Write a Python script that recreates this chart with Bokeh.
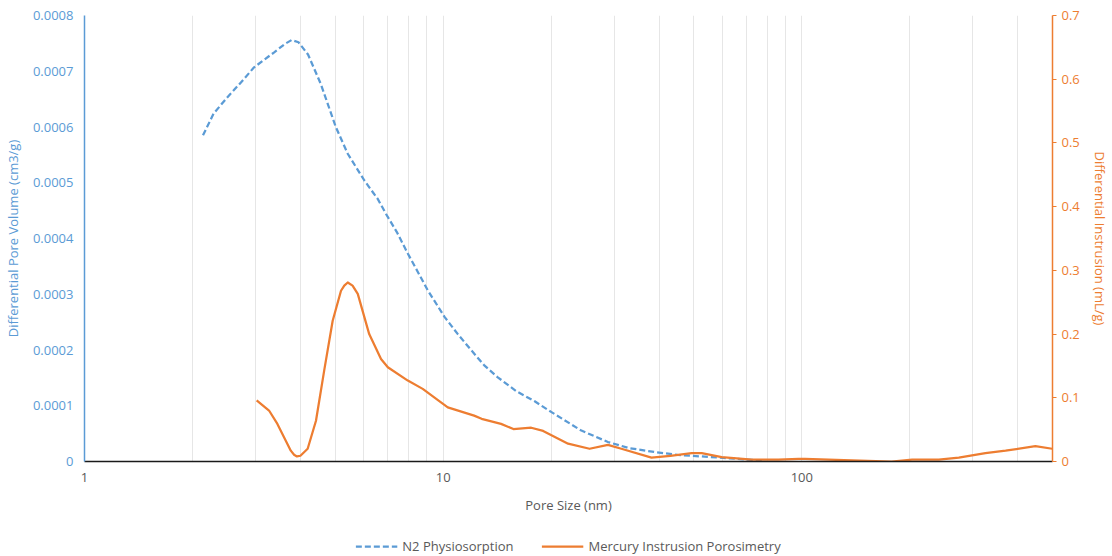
from bokeh.plotting import figure
from bokeh.layouts import column
from bokeh.models import (LinearAxis, Range1d, FixedTicker, Legend, LegendItem,
                          CustomJSTickFormatter)
from bokeh.embed import file_html
from bokeh.resources import INLINE

# N2 physiosorption (left axis, cm3/g)
n2_x = [2.14, 2.29, 2.50, 2.73, 2.97, 3.38, 3.62, 3.78, 3.95, 4.20,
        4.56, 5.02, 5.42, 6.03, 6.57, 6.93, 7.45, 7.97, 8.50, 9.06, 10.1, 11.0,
        12.0, 13.0, 14.2, 16.0, 18.0, 20.0, 24.2, 28.8, 33.0, 38.9, 45.0, 52.6,
        62.0, 75.7, 78.0]
n2_y = [0.000585, 0.000624, 0.000653, 0.000680, 0.000707,
        0.000734, 0.000749, 0.000756, 0.000752, 0.000730, 0.000677, 0.000600,
        0.000552, 0.000504, 0.000471, 0.000444, 0.000410, 0.000373, 0.000340,
        0.000307, 0.000259, 0.000228, 0.000199, 0.000173, 0.000151, 0.000126,
        0.000108, 0.000089, 0.000056, 0.000035, 0.000024, 0.000017, 0.000012,
        0.000009, 0.000006, 0.000002, 0.000001]

# Mercury intrusion porosimetry (right axis, mL/g)
hg_x = [3.02, 3.27, 3.45, 3.60, 3.76, 3.84, 3.91, 4.00, 4.19, 4.42, 4.66, 4.92,
        5.19, 5.30, 5.42, 5.59, 5.78, 6.22, 6.71, 7.01, 7.97, 8.77, 10.3, 12.2,
        12.8, 14.5, 15.7, 17.6, 19.0, 22.3, 25.6, 28.8, 31.4, 38.1, 43.0, 49.3,
        52.6, 59.8, 72.5, 86.0, 98.0, 102, 138, 178, 203, 241, 274, 325, 370,
        448, 499]
hg_y = [0.096, 0.080, 0.059, 0.038, 0.017, 0.0105, 0.008, 0.009, 0.020, 0.064,
        0.143, 0.221, 0.268, 0.276, 0.281, 0.276, 0.263, 0.200, 0.161, 0.148,
        0.127, 0.114, 0.085, 0.072, 0.067, 0.059, 0.051, 0.053, 0.048, 0.028,
        0.020, 0.026, 0.020, 0.006, 0.009, 0.013, 0.013, 0.007, 0.003, 0.003,
        0.004, 0.004, 0.0016, 0.0, 0.003, 0.003, 0.006, 0.013, 0.017, 0.024,
        0.020]

x_major = [1, 10, 100]
x_grid = [1, 2, 3, 4, 5, 6, 7, 8, 9, 10, 20, 30, 40, 50, 60, 70, 80, 90,
          100, 200, 300, 400, 500]
left_ticks = [0, 0.0001, 0.0002, 0.0003, 0.0004, 0.0005, 0.0006, 0.0007, 0.0008]
right_ticks = [0, 0.1, 0.2, 0.3, 0.4, 0.5, 0.6, 0.7]
series_names = ["N2 Physiosorption", "Mercury Instrusion Porosimetry"]

BLUE = "#5B9BD5"
ORANGE = "#ED7D31"
GREY = "#595959"
FONT = "Open Sans"

p = figure(width=1112, height=536, x_axis_type="log",
           x_range=Range1d(1, 500), y_range=Range1d(0, 0.0008),
           output_backend="svg", toolbar_location=None,
           min_border_left=84, min_border_right=60, min_border_top=15,
           min_border_bottom=75)
p.outline_line_color = None
p.extra_y_ranges = {"hg": Range1d(0, 0.7)}

# grid
p.ygrid.visible = False
p.xgrid.ticker = FixedTicker(ticks=x_grid)
p.xgrid.grid_line_color = "#e6e6e6"
p.xgrid.grid_line_width = 1

# x axis
xa = p.xaxis[0]
xa.ticker = FixedTicker(ticks=x_major)
xa.formatter = CustomJSTickFormatter(code="return String(tick)")
xa.axis_line_color = "#1a1a1a"
xa.axis_line_width = 1.5
xa.major_tick_line_color = None
xa.minor_tick_line_color = None
xa.major_label_text_color = GREY
xa.major_label_text_font = FONT
xa.major_label_text_font_size = "13px"
xa.axis_label = "Pore Size (nm)"
xa.axis_label_text_color = GREY
xa.axis_label_text_font = FONT
xa.axis_label_text_font_size = "13px"
xa.axis_label_text_font_style = "normal"
xa.axis_label_standoff = 11

# left axis
ya = p.yaxis[0]
ya.ticker = FixedTicker(ticks=left_ticks)
ya.formatter = CustomJSTickFormatter(code="return tick == 0 ? '0' : tick.toFixed(4)")
ya.axis_line_color = BLUE
ya.axis_line_width = 1.5
ya.major_tick_line_color = None
ya.minor_tick_line_color = None
ya.major_label_text_color = BLUE
ya.major_label_text_font = FONT
ya.major_label_text_font_size = "13px"
ya.axis_label = "Differential Pore Volume (cm3/g)"
ya.axis_label_text_color = BLUE
ya.axis_label_text_font = FONT
ya.axis_label_text_font_size = "13px"
ya.axis_label_text_font_style = "normal"
ya.axis_label_standoff = 8

# right axis
ra = LinearAxis(y_range_name="hg", ticker=FixedTicker(ticks=right_ticks),
                formatter=CustomJSTickFormatter(code="return tick == 0 ? '0' : tick.toFixed(1)"))
ra.axis_line_color = ORANGE
ra.axis_line_width = 1.5
ra.major_tick_line_color = ORANGE
ra.major_tick_out = 4
ra.major_tick_in = 0
ra.minor_tick_line_color = None
ra.major_label_text_color = ORANGE
ra.major_label_text_font = FONT
ra.major_label_text_font_size = "13px"
ra.axis_label = "Differential Instrusion (mL/g)"
ra.axis_label_text_color = ORANGE
ra.axis_label_text_font = FONT
ra.axis_label_text_font_size = "13px"
ra.axis_label_text_font_style = "normal"
ra.axis_label_standoff = 8
p.add_layout(ra, "right")

p.line(n2_x, n2_y, line_color=BLUE, line_width=2.25, line_dash="6 3",
       line_join="round")
p.line(hg_x, hg_y, line_color=ORANGE, line_width=2.25, y_range_name="hg",
       line_join="round")

# legend strip below the chart (proxy lines lie outside the strip's range)
lg = figure(width=1112, height=20, x_range=Range1d(0, 1), y_range=Range1d(0, 1),
            output_backend="svg", toolbar_location=None,
            min_border_left=0, min_border_right=0, min_border_top=0,
            min_border_bottom=0)
lg.axis.visible = False
lg.grid.visible = False
lg.outline_line_color = None
d1 = lg.line([-5, -4], [-5, -4], line_color=BLUE, line_width=2.25, line_dash="6 3")
d2 = lg.line([-5, -4], [-5, -4], line_color=ORANGE, line_width=2.25)
legend = Legend(items=[LegendItem(label=series_names[0], renderers=[d1]),
                       LegendItem(label=series_names[1], renderers=[d2])],
                orientation="horizontal", location="center",
                border_line_color=None, background_fill_alpha=0,
                label_text_font=FONT, label_text_font_size="13px",
                label_text_color=GREY, glyph_width=42, spacing=28,
                margin=0, padding=1, label_height=16, glyph_height=16)
lg.add_layout(legend, "center")

layout = column(p, lg, spacing=0)
open("out.html", "w").write(file_html(layout, INLINE))
